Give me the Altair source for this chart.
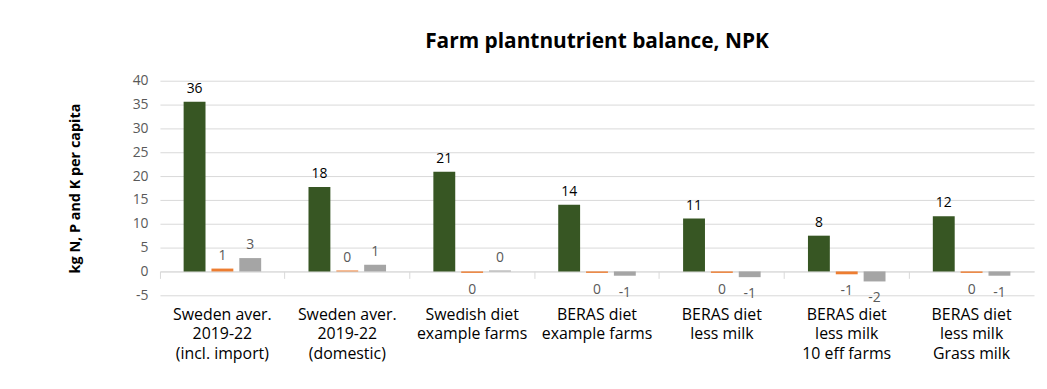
import altair as alt
import pandas as pd

categories = [
    "Sweden aver.|2019-22|(incl. import)",
    "Sweden aver.|2019-22|(domestic)",
    "Swedish diet|example farms",
    "BERAS diet|example farms",
    "BERAS diet|less milk",
    "BERAS diet|less milk|10 eff farms",
    "BERAS diet|less milk|Grass milk",
]
series_names = ["N", "P", "K"]
n_values = [35.6, 17.7, 20.9, 14.0, 11.1, 7.5, 11.6]
p_values = [0.6, 0.2, -0.3, -0.3, -0.3, -0.6, -0.3]
k_values = [2.8, 1.4, 0.2, -0.9, -1.2, -2.1, -0.9]
y_ticks = [-5, 0, 5, 10, 15, 20, 25, 30, 35, 40]
colors = ["#375623", "#ED7D31", "#A5A5A5"]

rows = []
for name, vals in zip(series_names, [n_values, p_values, k_values]):
    for c, v in zip(categories, vals):
        rows.append({"category": c, "series": name, "value": v})
df = pd.DataFrame(rows)

FONT = "Open Sans"

x_axis = alt.Axis(
    title=None,
    labelExpr="split(datum.label, '|')",
    labelAngle=0,
    labelFont=FONT,
    labelFontSize=16,
    labelColor="#000000",
    labelLineHeight=20,
    labelBaseline="top",
    labelPadding=28,
    offset=-24,
    domainColor="#D9D9D9",
    tickColor="#D9D9D9",
    tickSize=7,
    bandPosition=0,
    grid=False,
    labelOverlap=False,
)
y_axis = alt.Axis(
    title="kg N, P and K  per capita",
    titleFont=FONT,
    titleFontSize=14.5,
    titleFontWeight="bold",
    titleColor="#000000",
    titlePadding=50,
    values=y_ticks,
    labelExpr="toString(datum.value)",
    labelFont=FONT,
    labelFontSize=14,
    labelColor="#595959",
    labelPadding=12,
    labelOverlap=False,
    ticks=False,
    domain=False,
    grid=True,
    gridColor="#D9D9D9",
)
x_scale = alt.Scale(paddingInner=0, paddingOuter=0)
xoff_scale = alt.Scale(paddingInner=0.214, paddingOuter=0.85)
y_scale = alt.Scale(domain=[-5, 40], nice=False, zero=False)


def enc_xy():
    return dict(
        x=alt.X("category:N", sort=categories, scale=x_scale, axis=x_axis),
        xOffset=alt.XOffset("series:N", sort=series_names, scale=xoff_scale),
        y=alt.Y("value:Q", scale=y_scale, axis=y_axis),
    )


bars = alt.Chart(df).mark_bar().encode(
    **enc_xy(),
    color=alt.Color(
        "series:N",
        sort=series_names,
        scale=alt.Scale(domain=series_names, range=colors),
        legend=None,
    ),
)

base_text = alt.Chart(df).transform_calculate(
    label="toString(round(datum.value))"
)

pos_text = base_text.transform_filter("datum.value >= 0").mark_text(
    baseline="bottom", dy=-6, font=FONT, fontSize=14
).encode(
    **enc_xy(),
    text="label:N",
    color=alt.condition(alt.datum.series == "N", alt.value("#000000"), alt.value("#595959")),
)

neg_text = base_text.transform_filter("datum.value < 0").mark_text(
    baseline="top", dy=10, font=FONT, fontSize=14
).encode(
    **enc_xy(),
    text="label:N",
    color=alt.value("#595959"),
)

chart = (
    alt.layer(bars, pos_text, neg_text)
    .properties(
        width=880,
        height=216,
        title=alt.TitleParams(
            "Farm plantnutrient balance, NPK",
            font=FONT,
            fontSize=21,
            fontWeight="bold",
            color="#000000",
            anchor="middle",
            offset=22,
        ),
        padding={"left": 59, "top": 22, "right": 5, "bottom": 5},
    )
    .configure_view(stroke=None)
)

chart.save("out.html", embed_options={"renderer": "svg", "actions": False})
